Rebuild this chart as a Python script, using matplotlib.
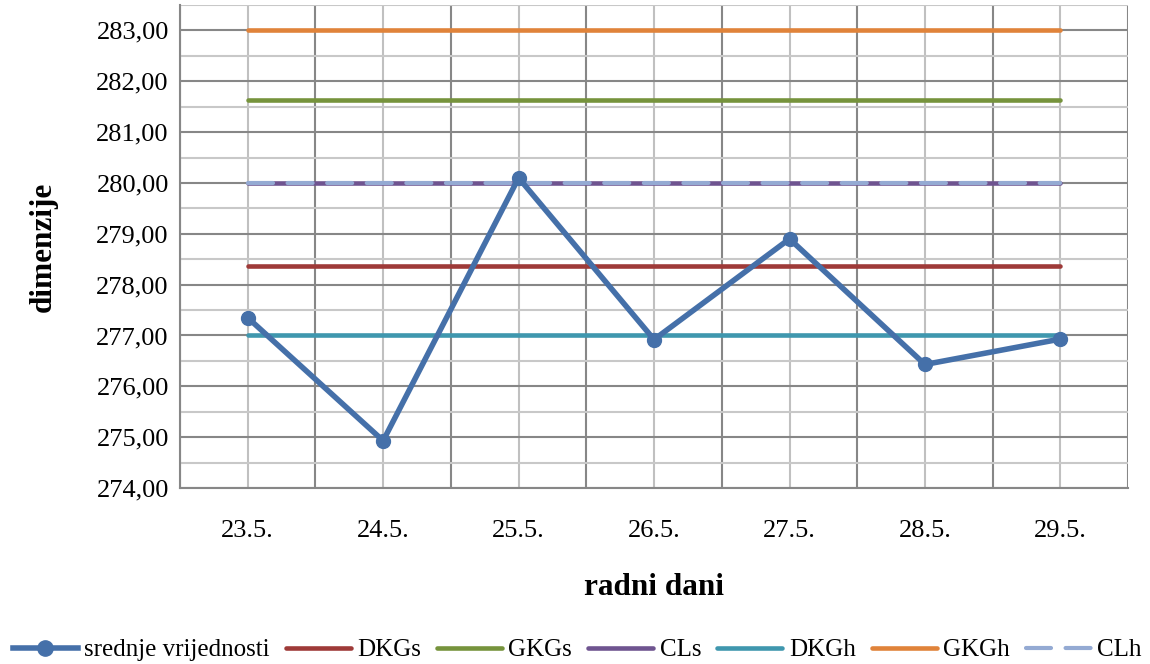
import numpy as np
import matplotlib.pyplot as plt
from matplotlib.ticker import FuncFormatter

# data
days = ["23.5.", "24.5.", "25.5.", "26.5.", "27.5.", "28.5.", "29.5."]
srednje = [277.35, 274.93, 280.10, 276.92, 278.90, 276.43, 276.93]
dkgs = 278.36
gkgs = 281.64
cls_val = 280.00
dkgh = 277.00
gkgh = 283.00
clh = 280.00

plt.rcParams['font.family'] = ['Liberation Serif', 'DejaVu Serif']

fig = plt.figure(figsize=(11.5, 6.64), dpi=100)
ax = fig.add_axes([0.1565, 0.265, 0.8245, 0.7275])

x = np.arange(len(days))
n = len(days)

# --------------------------------------------------
# grid: darker at majors, lighter at minors
# --------------------------------------------------
ax.set_xlim(-0.5, n - 0.5)
ax.set_ylim(274, 283.5)
ax.set_yticks(np.arange(274, 284, 1))
ax.yaxis.set_major_formatter(FuncFormatter(lambda v, p: f"{v:.2f}".replace(".", ",")))
ax.set_xticks(x)

for xb in np.arange(-0.5, n, 1.0):
    ax.axvline(xb, color="#878787", lw=1.5, zorder=0)
for xc in x:
    ax.axvline(xc, color="#c0c0c0", lw=1.5, zorder=0)
for yv in np.arange(274, 283.6, 1.0):
    ax.axhline(yv, color="#878787", lw=1.5, zorder=0)
for yv in np.arange(274.5, 283.6, 1.0):
    ax.axhline(yv, color="#c8c8c8", lw=1.5, zorder=0)

# --------------------------------------------------
# series
# --------------------------------------------------
kw = dict(lw=3.3, solid_capstyle="round", zorder=3)
ax.plot(x, [dkgs] * n, color="#9e3a38", label="DKGs", **kw)
ax.plot(x, [gkgs] * n, color="#76933c", label="GKGs", **kw)
ax.plot(x, [cls_val] * n, color="#6f5490", label="CLs", **kw)
ax.plot(x, [dkgh] * n, color="#3f97ae", label="DKGh", **kw)
ax.plot(x, [gkgh] * n, color="#e0833a", label="GKGh", **kw)
ax.plot(x, [clh] * n, color="#94aad3", lw=3.0, dashes=(6, 3.5),
        dash_capstyle="round", label="CLh", zorder=4)
ax.plot(x, srednje, color="#4570a9", lw=4.0, marker="o", markersize=10,
        label="srednje vrijednosti", zorder=5)

# --------------------------------------------------
# axes styling
# --------------------------------------------------
ax.set_xticklabels(days)
ax.tick_params(labelsize=19)
ax.tick_params(which="both", length=0)
ax.tick_params(axis="x", pad=23)
ax.tick_params(axis="y", pad=8)
for s in ["top", "right"]:
    ax.spines[s].set_visible(False)
for s in ["left", "bottom"]:
    ax.spines[s].set_color("#878787")
    ax.spines[s].set_linewidth(1.5)

ax.set_xlabel("radni dani", fontsize=22.5, fontweight="bold", labelpad=22)
ax.set_ylabel("dimenzije", fontsize=22.5, fontweight="bold", labelpad=28)

handles, labels = ax.get_legend_handles_labels()
order = [6, 0, 1, 2, 3, 4, 5]
fig.legend([handles[i] for i in order], [labels[i] for i in order],
           loc="center", bbox_to_anchor=(0.502, 0.021), ncol=7, frameon=False,
           fontsize=18, handlelength=2.6, handletextpad=0.25, columnspacing=0.65,
           borderpad=0, markerscale=1.1)

fig.savefig("out.png", dpi=100)
